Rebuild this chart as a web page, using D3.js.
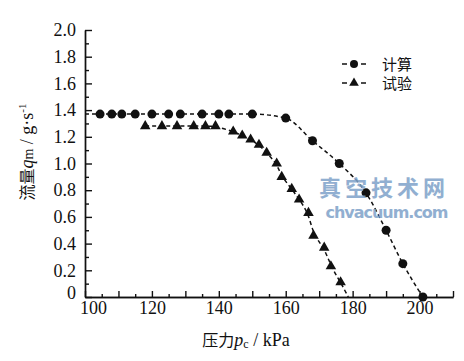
<!DOCTYPE html>
<html lang="zh">
<head>
<meta charset="UTF-8">
<title>流量-压力</title>
<script src="https://d3js.org/d3.v7.min.js"></script>
<style>
    body { margin: 0; background: #fff; }
    svg { display: block; }
    .axis path, .axis line { stroke: #111; stroke-width: 1.4; }
    .serif { font-family: 'Liberation Serif', 'DejaVu Serif', serif; }
    .cjk { font-family: 'Noto Sans CJK SC', sans-serif; }
</style>
</head>
<body>
<svg id="chart" width="464" height="361"></svg>
<script>
// 计算 (circles)
const calcP = [104.5, 108, 111, 115, 120, 125, 128.5, 135, 140, 143, 150, 160, 168, 176, 184, 190, 195, 201];
const calcQ = [1.37, 1.37, 1.37, 1.37, 1.37, 1.37, 1.37, 1.37, 1.37, 1.37, 1.37, 1.34, 1.17, 1.00, 0.78, 0.50, 0.25, 0];
// 试验 (triangles)
const testP = [118, 123, 127.5, 132.5, 136, 139, 144.3, 147, 149.5, 152, 154.3, 157.3, 158.8, 161.8, 164, 166.8, 168.3, 171.5, 173.5, 176.4];
const testQ = [1.28, 1.28, 1.28, 1.28, 1.28, 1.28, 1.24, 1.21, 1.18, 1.14, 1.08, 1.00, 0.90, 0.81, 0.73, 0.63, 0.46, 0.37, 0.23, 0.11];
// dashed lines run a bit past the markers
const calcLineStart = [100, 1.37];
const testLineEnd = [178.7, 0];

const xMajor = d3.range(100, 211, 10);
const xMinor = d3.range(105, 211, 10);
const xLabels = [100, 120, 140, 160, 180, 200];
const yMajor = d3.range(0, 2.01, 0.2);
const yMinor = d3.range(0.1, 2.0, 0.2);

const svg = d3.select("#chart");
const x = d3.scaleLinear().domain([100, 210]).range([85, 453]);
const y = d3.scaleLinear().domain([0, 2]).range([297, 30]);

// x axis
svg.append("g").attr("class", "axis").attr("transform", "translate(0,297)")
    .call(d3.axisBottom(x).tickValues(xMinor).tickSizeInner(-3).tickSizeOuter(0).tickFormat(""));
const gx = svg.append("g").attr("class", "axis").attr("transform", "translate(0,297)")
    .call(d3.axisBottom(x).tickValues(xMajor).tickSizeInner(-6).tickSizeOuter(0).tickPadding(4)
        .tickFormat(d => xLabels.includes(d) ? d : ""));
gx.attr("font-family", null);
gx.selectAll("text").attr("class", "serif").attr("font-size", 18).attr("fill", "#111")
    .attr("dx", d => d === 100 ? 8 : 0);

// y axis
svg.append("g").attr("class", "axis").attr("transform", "translate(85,0)")
    .call(d3.axisLeft(y).tickValues(yMinor).tickSizeInner(-4).tickSizeOuter(0).tickFormat(""));
const gy = svg.append("g").attr("class", "axis").attr("transform", "translate(85,0)")
    .call(d3.axisLeft(y).tickValues(yMajor).tickSizeInner(-7).tickSizeOuter(0).tickPadding(9)
        .tickFormat(d => d === 0 ? "0" : d3.format(".1f")(d)));
gy.attr("font-family", null);
gy.selectAll("text").attr("class", "serif").attr("font-size", 18).attr("fill", "#111")
    .attr("dy", d => d === 0 ? "0.1em" : "0.32em");

// lines
const calcPts = [calcLineStart].concat(calcP.map((p, i) => [p, calcQ[i]]));
const testPts = testP.map((p, i) => [p, testQ[i]]).concat([testLineEnd]);
const line = d3.line().x(d => x(d[0])).y(d => y(d[1]));

svg.append("path").attr("d", line.curve(d3.curveMonotoneX)(calcPts))
    .attr("fill", "none").attr("stroke", "#111").attr("stroke-width", 1.5).attr("stroke-dasharray", "4,3");
svg.append("path").attr("d", line.curve(d3.curveBasis)(testPts))
    .attr("fill", "none").attr("stroke", "#111").attr("stroke-width", 1.5).attr("stroke-dasharray", "4,3");

// markers
svg.append("g").selectAll("circle").data(calcP).join("circle")
    .attr("cx", d => x(d)).attr("cy", (d, i) => y(calcQ[i])).attr("r", 4.5).attr("fill", "#111");

const tri = d3.symbol().type(d3.symbolTriangle).size(48);
svg.append("g").selectAll("path").data(testP).join("path")
    .attr("d", tri).attr("fill", "#111")
    .attr("transform", (d, i) => `translate(${x(d)},${y(testQ[i])})`);

// legend
const lg = svg.append("g");
[["计算", "circle", 64], ["试验", "tri", 83]].forEach(([name, kind, ly]) => {
    lg.append("line").attr("x1", 342).attr("x2", 347).attr("y1", ly).attr("y2", ly).attr("stroke", "#111").attr("stroke-width", 1.5);
    lg.append("line").attr("x1", 361).attr("x2", 366).attr("y1", ly).attr("y2", ly).attr("stroke", "#111").attr("stroke-width", 1.5);
    if (kind === "circle") {
        lg.append("circle").attr("cx", 354).attr("cy", ly).attr("r", 4).attr("fill", "#111");
    } else {
        lg.append("path").attr("d", d3.symbol().type(d3.symbolTriangle).size(40)).attr("fill", "#111")
            .attr("transform", `translate(354,${ly})`);
    }
    lg.append("text").attr("class", "cjk").attr("x", 382).attr("y", ly + 5.5)
        .attr("font-size", 15).attr("fill", "#111").text(name);
});

// axis titles
const xt = svg.append("text").attr("class", "cjk").attr("x", 246).attr("y", 346).attr("text-anchor", "middle")
    .attr("font-size", 16).attr("fill", "#111");
xt.append("tspan").text("压力");
xt.append("tspan").attr("class", "serif").attr("font-style", "italic").attr("font-size", 18).text("p");
xt.append("tspan").attr("class", "serif").attr("font-size", 12).attr("dy", 2).text("c");
xt.append("tspan").attr("class", "serif").attr("font-size", 18).attr("dy", -2).text(" / kPa");

const yt = svg.append("text").attr("class", "cjk").attr("text-anchor", "middle")
    .attr("font-size", 16).attr("fill", "#111")
    .attr("transform", "translate(33,152) rotate(-90)");
yt.append("tspan").text("流量");
yt.append("tspan").attr("class", "serif").attr("font-style", "italic").attr("font-size", 18).text("q");
yt.append("tspan").attr("class", "serif").attr("font-size", 14).text("m");
yt.append("tspan").attr("class", "serif").attr("font-size", 18).text(" /  g·s");
yt.append("tspan").attr("class", "serif").attr("font-size", 11).attr("dy", -7).text("-1");

// watermark
svg.append("text").attr("class", "cjk").attr("x", 384).attr("y", 196).attr("text-anchor", "middle")
    .attr("font-weight", "bold").attr("font-size", 22)
    .attr("letter-spacing", 4).attr("fill", "#7ea2c9").attr("opacity", 0.85).text("真空技术网");
svg.append("text").attr("x", 387).attr("y", 218).attr("text-anchor", "middle")
    .attr("font-family", "DejaVu Sans").attr("font-weight", "bold").attr("font-size", 16)
    .attr("textLength", 123).attr("fill", "#7ea2c9").attr("opacity", 0.85).text("chvacuum.com");
</script>
</body>
</html>
